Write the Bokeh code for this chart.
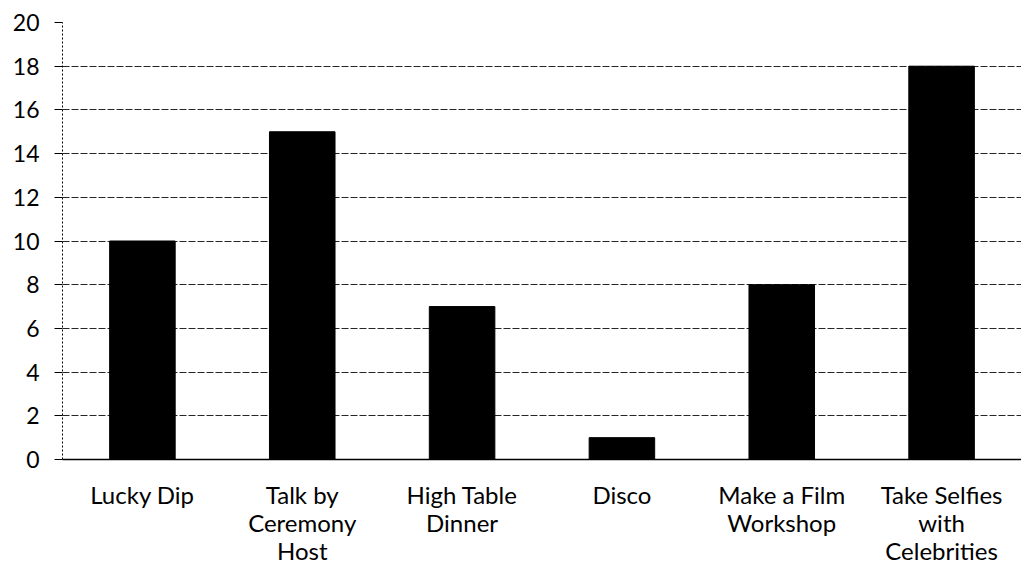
from bokeh.plotting import figure
from bokeh.embed import file_html
from bokeh.resources import INLINE
from bokeh.models import FixedTicker, Range1d, ColumnDataSource

categories = ["Lucky Dip", "Talk by\nCeremony\nHost", "High Table\nDinner", "Disco",
              "Make a Film\nWorkshop", "Take Selfies\nwith\nCelebrities"]
values = [10, 15, 7, 1, 8, 18]
y_ticks = [0, 2, 4, 6, 8, 10, 12, 14, 16, 18, 20]

src = ColumnDataSource(dict(cat=categories, val=values))

p = figure(x_range=categories, y_range=Range1d(0, 20), width=1021, height=572,
           output_backend="svg", toolbar_location=None,
           min_border_left=62, min_border_right=0, min_border_top=22, min_border_bottom=113)
p.outline_line_color = None
p.background_fill_color = "white"

p.vbar(x="cat", top="val", width=0.41, source=src, color="black")

FONT = "Lato"
p.yaxis.ticker = FixedTicker(ticks=y_ticks)
p.yaxis.major_label_text_font = FONT
p.yaxis.major_label_text_font_size = "23px"
p.yaxis.major_label_text_color = "black"
p.yaxis.axis_line_color = "black"
p.yaxis.axis_line_dash = "2 2"
p.yaxis.major_tick_line_color = "black"
p.yaxis.major_tick_out = 8
p.yaxis.major_tick_in = 0
p.yaxis.minor_tick_line_color = None
p.yaxis.major_label_standoff = 15

p.xaxis.major_label_text_font = FONT
p.xaxis.major_label_text_font_size = "24px"
p.xaxis.major_label_text_color = "black"
p.xaxis.major_label_text_line_height = 0.98
p.xaxis.axis_line_color = "black"
p.xaxis.axis_line_width = 1.5
p.xaxis.major_tick_line_color = None
p.xaxis.major_label_standoff = 14

p.xgrid.grid_line_color = None
p.ygrid.grid_line_color = "black"
p.ygrid.grid_line_alpha = 0.85
p.ygrid.grid_line_dash = "7 2"
p.ygrid.grid_line_width = 1

open("out.html", "w").write(file_html(p, INLINE))
